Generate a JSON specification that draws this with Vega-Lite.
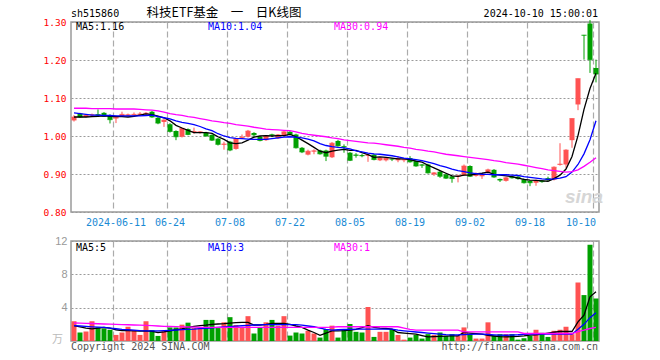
{
  "$schema": "https://vega.github.io/schema/vega-lite/v6.json",
  "background": "white",
  "padding": {"left": 5, "top": 6, "right": 5, "bottom": 5},
  "bounds": "flush",
  "spacing": 29,
  "config": {
    "view": {"stroke": "#9a9a9a", "strokeWidth": 1.5},
    "axis": {"labelFont": "DejaVu Sans Mono"}
  },
  "datasets": {
    "k": [
      {"d":"2024-05-30","o":1.041,"h":1.055,"l":1.038,"c":1.050,"v":2.37,"m5":1.050,"m10":1.061,"m30":1.073,"vm5":1.84,"vm10":1.84,"vm30":2.16},
      {"d":"2024-05-31","o":1.059,"h":1.061,"l":1.048,"c":1.050,"v":1.02,"m5":1.050,"m10":1.059,"m30":1.073,"vm5":1.70,"vm10":1.80,"vm30":2.14},
      {"d":"2024-06-03","o":1.050,"h":1.057,"l":1.049,"c":1.055,"v":1.14,"m5":1.050,"m10":1.057,"m30":1.073,"vm5":1.55,"vm10":1.75,"vm30":2.12},
      {"d":"2024-06-04","o":1.054,"h":1.059,"l":1.050,"c":1.056,"v":2.37,"m5":1.051,"m10":1.055,"m30":1.072,"vm5":1.45,"vm10":1.70,"vm30":2.10},
      {"d":"2024-06-05","o":1.057,"h":1.070,"l":1.050,"c":1.055,"v":1.63,"m5":1.052,"m10":1.055,"m30":1.072,"vm5":1.55,"vm10":1.66,"vm30":2.07},
      {"d":"2024-06-06","o":1.061,"h":1.063,"l":1.050,"c":1.052,"v":1.51,"m5":1.053,"m10":1.054,"m30":1.072,"vm5":1.63,"vm10":1.63,"vm30":2.04},
      {"d":"2024-06-07","o":1.055,"h":1.057,"l":1.033,"c":1.043,"v":1.35,"m5":1.052,"m10":1.054,"m30":1.072,"vm5":1.55,"vm10":1.55,"vm30":2.02},
      {"d":"2024-06-11","o":1.046,"h":1.054,"l":1.034,"c":1.049,"v":0.73,"m5":1.051,"m10":1.053,"m30":1.071,"vm5":1.35,"vm10":1.47,"vm30":2.00},
      {"d":"2024-06-12","o":1.052,"h":1.064,"l":1.051,"c":1.057,"v":1.02,"m5":1.051,"m10":1.053,"m30":1.071,"vm5":1.25,"vm10":1.40,"vm30":1.97},
      {"d":"2024-06-13","o":1.054,"h":1.059,"l":1.052,"c":1.056,"v":1.71,"m5":1.050,"m10":1.053,"m30":1.071,"vm5":1.25,"vm10":1.35,"vm30":1.95},
      {"d":"2024-06-14","o":1.055,"h":1.062,"l":1.053,"c":1.057,"v":1.22,"m5":1.052,"m10":1.053,"m30":1.071,"vm5":1.22,"vm10":1.30,"vm30":1.92},
      {"d":"2024-06-17","o":1.056,"h":1.063,"l":1.054,"c":1.058,"v":0.73,"m5":1.055,"m10":1.053,"m30":1.070,"vm5":1.20,"vm10":1.25,"vm30":1.90},
      {"d":"2024-06-18","o":1.058,"h":1.063,"l":1.056,"c":1.060,"v":2.37,"m5":1.058,"m10":1.054,"m30":1.069,"vm5":1.22,"vm10":1.22,"vm30":1.88},
      {"d":"2024-06-19","o":1.064,"h":1.066,"l":1.048,"c":1.050,"v":1.31,"m5":1.056,"m10":1.055,"m30":1.068,"vm5":1.15,"vm10":1.22,"vm30":1.85},
      {"d":"2024-06-20","o":1.048,"h":1.050,"l":1.031,"c":1.034,"v":0.61,"m5":1.052,"m10":1.051,"m30":1.066,"vm5":1.02,"vm10":1.22,"vm30":1.80},
      {"d":"2024-06-21","o":1.037,"h":1.044,"l":1.024,"c":1.042,"v":1.22,"m5":1.048,"m10":1.048,"m30":1.063,"vm5":1.10,"vm10":1.25,"vm30":1.76},
      {"d":"2024-06-24","o":1.031,"h":1.034,"l":1.009,"c":1.012,"v":1.63,"m5":1.040,"m10":1.045,"m30":1.059,"vm5":1.22,"vm10":1.28,"vm30":1.74},
      {"d":"2024-06-25","o":1.013,"h":1.015,"l":0.989,"c":0.998,"v":1.63,"m5":1.028,"m10":1.040,"m30":1.056,"vm5":1.35,"vm10":1.32,"vm30":1.72},
      {"d":"2024-06-26","o":0.998,"h":1.022,"l":0.996,"c":1.020,"v":1.96,"m5":1.021,"m10":1.036,"m30":1.054,"vm5":1.45,"vm10":1.36,"vm30":1.70},
      {"d":"2024-06-27","o":1.018,"h":1.020,"l":1.002,"c":1.004,"v":2.20,"m5":1.015,"m10":1.033,"m30":1.051,"vm5":1.63,"vm10":1.40,"vm30":1.68},
      {"d":"2024-06-28","o":1.010,"h":1.022,"l":1.006,"c":1.012,"v":1.55,"m5":1.009,"m10":1.030,"m30":1.049,"vm5":1.75,"vm10":1.43,"vm30":1.66},
      {"d":"2024-07-01","o":1.009,"h":1.013,"l":1.006,"c":1.011,"v":1.55,"m5":1.009,"m10":1.025,"m30":1.046,"vm5":1.84,"vm10":1.48,"vm30":1.63},
      {"d":"2024-07-02","o":1.009,"h":1.011,"l":0.998,"c":1.000,"v":2.53,"m5":1.009,"m10":1.019,"m30":1.043,"vm5":1.90,"vm10":1.53,"vm30":1.63},
      {"d":"2024-07-03","o":1.003,"h":1.004,"l":0.987,"c":0.989,"v":2.53,"m5":1.007,"m10":1.014,"m30":1.040,"vm5":2.00,"vm10":1.58,"vm30":1.63},
      {"d":"2024-07-04","o":0.993,"h":0.995,"l":0.975,"c":0.978,"v":1.55,"m5":0.998,"m10":1.006,"m30":1.038,"vm5":2.04,"vm10":1.63,"vm30":1.63},
      {"d":"2024-07-05","o":0.977,"h":0.985,"l":0.964,"c":0.979,"v":2.24,"m5":0.991,"m10":1.000,"m30":1.035,"vm5":2.08,"vm10":1.68,"vm30":1.63},
      {"d":"2024-07-08","o":0.985,"h":0.987,"l":0.960,"c":0.963,"v":2.86,"m5":0.982,"m10":0.996,"m30":1.033,"vm5":2.15,"vm10":1.73,"vm30":1.63},
      {"d":"2024-07-09","o":0.966,"h":0.995,"l":0.964,"c":0.993,"v":1.92,"m5":0.980,"m10":0.994,"m30":1.030,"vm5":2.20,"vm10":1.78,"vm30":1.63},
      {"d":"2024-07-10","o":0.995,"h":1.004,"l":0.992,"c":0.997,"v":1.63,"m5":0.982,"m10":0.993,"m30":1.028,"vm5":2.24,"vm10":1.83,"vm30":1.63},
      {"d":"2024-07-11","o":0.998,"h":1.016,"l":0.996,"c":1.013,"v":2.98,"m5":0.989,"m10":0.992,"m30":1.026,"vm5":2.24,"vm10":1.88,"vm30":1.63},
      {"d":"2024-07-12","o":1.008,"h":1.010,"l":0.996,"c":1.003,"v":0.90,"m5":0.997,"m10":0.991,"m30":1.023,"vm5":1.92,"vm10":1.92,"vm30":1.63},
      {"d":"2024-07-15","o":0.998,"h":0.999,"l":0.986,"c":0.988,"v":1.63,"m5":1.000,"m10":0.991,"m30":1.021,"vm5":1.92,"vm10":1.94,"vm30":1.63},
      {"d":"2024-07-16","o":0.989,"h":1.002,"l":0.987,"c":1.000,"v":2.24,"m5":1.001,"m10":0.991,"m30":1.018,"vm5":2.00,"vm10":1.96,"vm30":1.63},
      {"d":"2024-07-17","o":1.004,"h":1.006,"l":0.997,"c":1.003,"v":2.53,"m5":1.000,"m10":0.993,"m30":1.017,"vm5":2.10,"vm10":1.96,"vm30":1.63},
      {"d":"2024-07-18","o":0.994,"h":1.005,"l":0.992,"c":1.003,"v":1.84,"m5":1.001,"m10":0.995,"m30":1.016,"vm5":2.12,"vm10":1.96,"vm30":1.63},
      {"d":"2024-07-19","o":1.000,"h":1.013,"l":0.998,"c":1.011,"v":2.98,"m5":1.001,"m10":0.997,"m30":1.015,"vm5":2.12,"vm10":1.96,"vm30":1.63},
      {"d":"2024-07-22","o":1.011,"h":1.013,"l":1.002,"c":1.004,"v":0.65,"m5":1.004,"m10":0.998,"m30":1.014,"vm5":2.00,"vm10":1.96,"vm30":1.63},
      {"d":"2024-07-23","o":1.004,"h":1.006,"l":0.967,"c":0.969,"v":1.02,"m5":0.998,"m10":0.997,"m30":1.011,"vm5":1.80,"vm10":1.96,"vm30":1.63},
      {"d":"2024-07-24","o":0.969,"h":0.971,"l":0.955,"c":0.958,"v":0.90,"m5":0.989,"m10":0.995,"m30":1.007,"vm5":1.63,"vm10":1.90,"vm30":1.63},
      {"d":"2024-07-25","o":0.951,"h":0.964,"l":0.949,"c":0.960,"v":1.22,"m5":0.980,"m10":0.992,"m30":1.004,"vm5":1.30,"vm10":1.80,"vm30":1.63},
      {"d":"2024-07-26","o":0.959,"h":0.965,"l":0.952,"c":0.961,"v":0.90,"m5":0.970,"m10":0.987,"m30":1.002,"vm5":1.02,"vm10":1.71,"vm30":1.63},
      {"d":"2024-07-29","o":0.962,"h":0.964,"l":0.951,"c":0.953,"v":0.41,"m5":0.960,"m10":0.980,"m30":1.000,"vm5":0.69,"vm10":1.55,"vm30":1.63},
      {"d":"2024-07-30","o":0.962,"h":0.964,"l":0.934,"c":0.947,"v":1.43,"m5":0.956,"m10":0.975,"m30":0.998,"vm5":0.95,"vm10":1.40,"vm30":1.63},
      {"d":"2024-07-31","o":0.944,"h":0.984,"l":0.942,"c":0.981,"v":1.84,"m5":0.960,"m10":0.972,"m30":0.995,"vm5":1.22,"vm10":1.31,"vm30":1.66},
      {"d":"2024-08-01","o":0.987,"h":0.990,"l":0.972,"c":0.974,"v":0.41,"m5":0.963,"m10":0.970,"m30":0.993,"vm5":1.22,"vm10":1.35,"vm30":1.71},
      {"d":"2024-08-02","o":0.973,"h":0.978,"l":0.956,"c":0.971,"v":1.35,"m5":0.965,"m10":0.969,"m30":0.990,"vm5":1.25,"vm10":1.38,"vm30":1.71},
      {"d":"2024-08-05","o":0.956,"h":0.958,"l":0.934,"c":0.936,"v":2.04,"m5":0.962,"m10":0.966,"m30":0.988,"vm5":1.31,"vm10":1.40,"vm30":1.71},
      {"d":"2024-08-06","o":0.951,"h":0.955,"l":0.943,"c":0.949,"v":1.10,"m5":0.962,"m10":0.961,"m30":0.986,"vm5":1.40,"vm10":1.43,"vm30":1.71},
      {"d":"2024-08-07","o":0.950,"h":0.953,"l":0.944,"c":0.948,"v":1.02,"m5":0.956,"m10":0.958,"m30":0.984,"vm5":1.60,"vm10":1.43,"vm30":1.71},
      {"d":"2024-08-08","o":0.948,"h":0.953,"l":0.932,"c":0.950,"v":4.08,"m5":0.951,"m10":0.955,"m30":0.982,"vm5":1.84,"vm10":1.43,"vm30":1.71},
      {"d":"2024-08-09","o":0.951,"h":0.953,"l":0.936,"c":0.938,"v":0.49,"m5":0.944,"m10":0.953,"m30":0.981,"vm5":1.63,"vm10":1.43,"vm30":1.71},
      {"d":"2024-08-12","o":0.936,"h":0.944,"l":0.934,"c":0.942,"v":1.10,"m5":0.945,"m10":0.952,"m30":0.979,"vm5":1.55,"vm10":1.43,"vm30":1.71},
      {"d":"2024-08-13","o":0.936,"h":0.943,"l":0.933,"c":0.942,"v":1.10,"m5":0.944,"m10":0.950,"m30":0.977,"vm5":1.50,"vm10":1.43,"vm30":1.71},
      {"d":"2024-08-14","o":0.940,"h":0.941,"l":0.934,"c":0.939,"v":1.43,"m5":0.942,"m10":0.948,"m30":0.975,"vm5":1.43,"vm10":1.43,"vm30":1.71},
      {"d":"2024-08-15","o":0.936,"h":0.947,"l":0.931,"c":0.940,"v":0.73,"m5":0.940,"m10":0.945,"m30":0.973,"vm5":1.02,"vm10":1.30,"vm30":1.71},
      {"d":"2024-08-16","o":0.936,"h":0.940,"l":0.931,"c":0.938,"v":0.16,"m5":0.940,"m10":0.942,"m30":0.970,"vm5":0.95,"vm10":1.22,"vm30":1.55},
      {"d":"2024-08-19","o":0.942,"h":0.947,"l":0.930,"c":0.932,"v":0.41,"m5":0.938,"m10":0.940,"m30":0.968,"vm5":0.88,"vm10":1.15,"vm30":1.40},
      {"d":"2024-08-20","o":0.934,"h":0.936,"l":0.919,"c":0.921,"v":0.73,"m5":0.934,"m10":0.938,"m30":0.965,"vm5":0.82,"vm10":1.08,"vm30":1.31},
      {"d":"2024-08-21","o":0.925,"h":0.926,"l":0.916,"c":0.923,"v":0.29,"m5":0.931,"m10":0.935,"m30":0.963,"vm5":0.65,"vm10":1.02,"vm30":1.31},
      {"d":"2024-08-22","o":0.925,"h":0.927,"l":0.901,"c":0.903,"v":0.82,"m5":0.923,"m10":0.931,"m30":0.960,"vm5":0.49,"vm10":0.95,"vm30":1.31},
      {"d":"2024-08-23","o":0.899,"h":0.905,"l":0.895,"c":0.903,"v":0.73,"m5":0.916,"m10":0.927,"m30":0.958,"vm5":0.52,"vm10":0.88,"vm30":1.31},
      {"d":"2024-08-26","o":0.906,"h":0.908,"l":0.890,"c":0.894,"v":1.02,"m5":0.909,"m10":0.922,"m30":0.955,"vm5":0.55,"vm10":0.82,"vm30":1.31},
      {"d":"2024-08-27","o":0.899,"h":0.902,"l":0.887,"c":0.889,"v":0.61,"m5":0.902,"m10":0.918,"m30":0.952,"vm5":0.58,"vm10":0.76,"vm30":1.31},
      {"d":"2024-08-28","o":0.894,"h":0.895,"l":0.877,"c":0.888,"v":0.82,"m5":0.895,"m10":0.913,"m30":0.950,"vm5":0.61,"vm10":0.73,"vm30":1.31},
      {"d":"2024-08-29","o":0.893,"h":0.898,"l":0.878,"c":0.895,"v":0.61,"m5":0.894,"m10":0.909,"m30":0.948,"vm5":0.61,"vm10":0.73,"vm30":1.31},
      {"d":"2024-08-30","o":0.897,"h":0.925,"l":0.895,"c":0.921,"v":1.63,"m5":0.897,"m10":0.906,"m30":0.946,"vm5":1.02,"vm10":0.76,"vm30":1.10},
      {"d":"2024-09-02","o":0.921,"h":0.923,"l":0.892,"c":0.894,"v":0.82,"m5":0.897,"m10":0.903,"m30":0.944,"vm5":0.95,"vm10":0.79,"vm30":1.10},
      {"d":"2024-09-03","o":0.895,"h":0.904,"l":0.893,"c":0.900,"v":0.29,"m5":0.900,"m10":0.901,"m30":0.942,"vm5":0.88,"vm10":0.82,"vm30":1.10},
      {"d":"2024-09-04","o":0.894,"h":0.902,"l":0.887,"c":0.898,"v":0.29,"m5":0.902,"m10":0.899,"m30":0.940,"vm5":0.82,"vm10":0.82,"vm30":1.10},
      {"d":"2024-09-05","o":0.903,"h":0.914,"l":0.901,"c":0.911,"v":2.24,"m5":0.905,"m10":0.899,"m30":0.938,"vm5":0.69,"vm10":0.78,"vm30":1.10},
      {"d":"2024-09-06","o":0.911,"h":0.913,"l":0.890,"c":0.892,"v":0.61,"m5":0.899,"m10":0.898,"m30":0.935,"vm5":0.60,"vm10":0.74,"vm30":1.10},
      {"d":"2024-09-09","o":0.887,"h":0.888,"l":0.879,"c":0.884,"v":0.82,"m5":0.897,"m10":0.898,"m30":0.933,"vm5":0.52,"vm10":0.71,"vm30":1.10},
      {"d":"2024-09-10","o":0.882,"h":0.892,"l":0.880,"c":0.890,"v":0.82,"m5":0.895,"m10":0.898,"m30":0.930,"vm5":0.49,"vm10":0.69,"vm30":1.10},
      {"d":"2024-09-11","o":0.894,"h":0.896,"l":0.888,"c":0.890,"v":0.82,"m5":0.893,"m10":0.897,"m30":0.928,"vm5":0.52,"vm10":0.72,"vm30":1.10},
      {"d":"2024-09-12","o":0.893,"h":0.895,"l":0.885,"c":0.888,"v":0.16,"m5":0.889,"m10":0.896,"m30":0.926,"vm5":0.55,"vm10":0.75,"vm30":1.10},
      {"d":"2024-09-13","o":0.886,"h":0.888,"l":0.875,"c":0.877,"v":0.33,"m5":0.886,"m10":0.893,"m30":0.923,"vm5":0.61,"vm10":0.80,"vm30":0.90},
      {"d":"2024-09-18","o":0.882,"h":0.883,"l":0.868,"c":0.877,"v":0.61,"m5":0.884,"m10":0.891,"m30":0.920,"vm5":0.70,"vm10":0.82,"vm30":0.90},
      {"d":"2024-09-19","o":0.877,"h":0.885,"l":0.869,"c":0.883,"v":1.35,"m5":0.883,"m10":0.889,"m30":0.917,"vm5":0.75,"vm10":0.82,"vm30":0.90},
      {"d":"2024-09-20","o":0.883,"h":0.884,"l":0.877,"c":0.880,"v":0.98,"m5":0.882,"m10":0.887,"m30":0.914,"vm5":0.82,"vm10":0.82,"vm30":0.90},
      {"d":"2024-09-23","o":0.889,"h":0.893,"l":0.882,"c":0.885,"v":0.49,"m5":0.881,"m10":0.886,"m30":0.911,"vm5":0.95,"vm10":0.82,"vm30":0.90},
      {"d":"2024-09-24","o":0.885,"h":0.920,"l":0.883,"c":0.918,"v":1.22,"m5":0.888,"m10":0.887,"m30":0.909,"vm5":1.05,"vm10":0.82,"vm30":0.90},
      {"d":"2024-09-25","o":0.924,"h":0.981,"l":0.922,"c":0.926,"v":1.35,"m5":0.897,"m10":0.889,"m30":0.907,"vm5":1.14,"vm10":0.82,"vm30":0.90},
      {"d":"2024-09-26","o":0.925,"h":0.965,"l":0.916,"c":0.963,"v":1.71,"m5":0.913,"m10":0.893,"m30":0.905,"vm5":1.14,"vm10":0.82,"vm30":0.90},
      {"d":"2024-09-27","o":0.989,"h":1.046,"l":0.969,"c":1.046,"v":0.82,"m5":0.946,"m10":0.905,"m30":0.906,"vm5":1.14,"vm10":0.82,"vm30":0.90},
      {"d":"2024-09-30","o":1.083,"h":1.151,"l":1.068,"c":1.151,"v":7.02,"m5":1.001,"m10":0.925,"m30":0.911,"vm5":2.30,"vm10":1.40,"vm30":1.12},
      {"d":"2024-10-08","o":1.266,"h":1.266,"l":1.201,"c":1.265,"v":5.51,"m5":1.070,"m10":0.953,"m30":0.920,"vm5":3.10,"vm10":2.00,"vm30":1.30},
      {"d":"2024-10-09","o":1.296,"h":1.305,"l":1.166,"c":1.201,"v":11.55,"m5":1.125,"m10":0.990,"m30":0.931,"vm5":5.30,"vm10":2.80,"vm30":1.50},
      {"d":"2024-10-10","o":1.179,"h":1.201,"l":1.141,"c":1.163,"v":5.10,"m5":1.165,"m10":1.040,"m30":0.943,"vm5":5.90,"vm10":3.40,"vm30":1.63}
    ],
    "tm": [
      {"d":"2024-05-30","k":"m5","t":"MA5:1.16"},
      {"d":"2024-07-02","k":"m10","t":"MA10:1.04"},
      {"d":"2024-07-31","k":"m30","t":"MA30:0.94"}
    ],
    "tv": [
      {"d":"2024-05-30","k":"vm5","t":"MA5:5"},
      {"d":"2024-07-02","k":"vm10","t":"MA10:3"},
      {"d":"2024-07-31","k":"vm30","t":"MA30:1"}
    ]
  },
  "vconcat": [
    {
      "width": 528,
      "height": 190,
      "data": {"name": "k"},
      "encoding": {
        "x": {
          "field": "d", "type": "ordinal",
          "scale": {"paddingInner": 0.1667, "paddingOuter": 0.0833},
          "axis": {
            "title": null,
            "values": ["2024-06-11","2024-06-24","2024-07-08","2024-07-22","2024-08-05","2024-08-19","2024-09-02","2024-09-18","2024-10-10"],
            "labelExpr": "datum.value === '2024-06-11' ? datum.value : substring(datum.value, 5)",
            "labelAngle": 0,
            "labelColor": "#1a8ad4",
            "labelFontSize": 10,
            "labelPadding": 5,
            "labelFlush": 8,
            "labelOverlap": false,
            "bandPosition": 0,
            "ticks": false,
            "domain": false,
            "grid": true,
            "gridColor": "#ababab",
            "gridDash": [6, 3],
            "gridWidth": 1.2
          }
        }
      },
      "layer": [
        {
          "mark": {"type": "rule", "strokeWidth": 1},
          "encoding": {
            "y": {
              "field": "l", "type": "quantitative",
              "scale": {"domain": [0.8, 1.3], "nice": false, "zero": false},
              "axis": {"title": null, "values": [0.8, 0.9, 1.0, 1.1, 1.2, 1.3], "format": ".2f", "labelColor": "#ff0000", "labelFontSize": 9.5, "labelPadding": 5, "labelOverlap": false, "minExtent": 65, "maxExtent": 65, "ticks": false, "domain": false, "grid": true, "gridColor": "#9a9a9a", "gridDash": [2, 2]}
            },
            "y2": {"field": "h"},
            "color": {"condition": {"test": "datum.c >= datum.o", "value": "#ff5252"}, "value": "#00a000"}
          }
        },
        {
          "mark": {"type": "bar"},
          "encoding": {
            "y": {"field": "o", "type": "quantitative",
              "axis": {"title": null, "values": [0.8, 0.9, 1.0, 1.1, 1.2, 1.3], "format": ".2f", "labelColor": "#ff0000", "labelFontSize": 9.5, "labelPadding": 5, "labelOverlap": false, "minExtent": 65, "maxExtent": 65, "ticks": false, "domain": false, "grid": true, "gridColor": "#9a9a9a", "gridDash": [2, 2]}},
            "y2": {"field": "c"},
            "color": {"condition": {"test": "datum.c >= datum.o", "value": "#ff5252"}, "value": "#00a000"}
          }
        },
        {
          "mark": {"type": "tick", "thickness": 1, "size": 5, "orient": "horizontal"},
          "encoding": {
            "y": {"field": "c", "type": "quantitative",
              "axis": {"title": null, "values": [0.8, 0.9, 1.0, 1.1, 1.2, 1.3], "format": ".2f", "labelColor": "#ff0000", "labelFontSize": 9.5, "labelPadding": 5, "labelOverlap": false, "minExtent": 65, "maxExtent": 65, "ticks": false, "domain": false, "grid": true, "gridColor": "#9a9a9a", "gridDash": [2, 2]}},
            "color": {"condition": {"test": "datum.c >= datum.o", "value": "#ff5252"}, "value": "#00a000"}
          }
        },
        {
          "transform": [{"fold": ["m5", "m10", "m30"], "as": ["k", "val"]}],
          "mark": {"type": "line", "strokeWidth": 1.3},
          "encoding": {
            "y": {"field": "val", "type": "quantitative",
              "axis": {"title": null, "values": [0.8, 0.9, 1.0, 1.1, 1.2, 1.3], "format": ".2f", "labelColor": "#ff0000", "labelFontSize": 9.5, "labelPadding": 5, "labelOverlap": false, "minExtent": 65, "maxExtent": 65, "ticks": false, "domain": false, "grid": true, "gridColor": "#9a9a9a", "gridDash": [2, 2]}},
            "color": {"field": "k", "type": "nominal", "scale": {"domain": ["m5", "m10", "m30"], "range": ["#000000", "#0000ff", "#ff00ff"]}, "legend": null}
          }
        },
        {
          "data": {"name": "tm"},
          "mark": {"type": "text", "align": "left", "baseline": "middle", "dx": 2, "font": "DejaVu Sans Mono", "fontSize": 10},
          "encoding": {
            "y": {"datum": 1.287, "type": "quantitative",
              "axis": {"title": null, "values": [0.8, 0.9, 1.0, 1.1, 1.2, 1.3], "format": ".2f", "labelColor": "#ff0000", "labelFontSize": 9.5, "labelPadding": 5, "labelOverlap": false, "minExtent": 65, "maxExtent": 65, "ticks": false, "domain": false, "grid": true, "gridColor": "#9a9a9a", "gridDash": [2, 2]}},
            "text": {"field": "t"},
            "color": {"field": "k", "type": "nominal", "scale": {"domain": ["m5", "m10", "m30"], "range": ["#000000", "#0000ff", "#ff00ff"]}, "legend": null}
          }
        },
        {
          "data": {"values": [{"d": "2024-05-30", "t": "sh515860"}]},
          "mark": {"type": "text", "align": "left", "baseline": "middle", "dx": -3, "font": "DejaVu Sans Mono", "fontSize": 10, "color": "#000000"},
          "encoding": {"y": {"datum": 1.321, "type": "quantitative",
              "axis": {"title": null, "values": [0.8, 0.9, 1.0, 1.1, 1.2, 1.3], "format": ".2f", "labelColor": "#ff0000", "labelFontSize": 9.5, "labelPadding": 5, "labelOverlap": false, "minExtent": 65, "maxExtent": 65, "ticks": false, "domain": false, "grid": true, "gridColor": "#9a9a9a", "gridDash": [2, 2]}}, "text": {"field": "t"}}
        },
        {
          "data": {"values": [{"d": "2024-07-05", "t": "科技ETF基金　一　日K线图"}]},
          "mark": {"type": "text", "align": "center", "baseline": "middle", "font": "Noto Sans CJK SC", "fontSize": 12.5, "color": "#000000"},
          "encoding": {"y": {"datum": 1.323, "type": "quantitative",
              "axis": {"title": null, "values": [0.8, 0.9, 1.0, 1.1, 1.2, 1.3], "format": ".2f", "labelColor": "#ff0000", "labelFontSize": 9.5, "labelPadding": 5, "labelOverlap": false, "minExtent": 65, "maxExtent": 65, "ticks": false, "domain": false, "grid": true, "gridColor": "#9a9a9a", "gridDash": [2, 2]}}, "text": {"field": "t"}}
        },
        {
          "data": {"values": [{"d": "2024-10-10", "t": "2024-10-10 15:00:01"}]},
          "mark": {"type": "text", "align": "right", "baseline": "middle", "dx": 2, "font": "DejaVu Sans Mono", "fontSize": 10, "color": "#000000"},
          "encoding": {"y": {"datum": 1.321, "type": "quantitative",
              "axis": {"title": null, "values": [0.8, 0.9, 1.0, 1.1, 1.2, 1.3], "format": ".2f", "labelColor": "#ff0000", "labelFontSize": 9.5, "labelPadding": 5, "labelOverlap": false, "minExtent": 65, "maxExtent": 65, "ticks": false, "domain": false, "grid": true, "gridColor": "#9a9a9a", "gridDash": [2, 2]}}, "text": {"field": "t"}}
        },
        {
          "data": {"values": [{"d": "2024-10-08", "t": "sina"}]},
          "mark": {"type": "text", "align": "center", "baseline": "middle", "font": "Liberation Sans", "fontSize": 19, "fontStyle": "italic", "fontWeight": "bold", "color": "#d6d6d6"},
          "encoding": {"y": {"datum": 0.84, "type": "quantitative",
              "axis": {"title": null, "values": [0.8, 0.9, 1.0, 1.1, 1.2, 1.3], "format": ".2f", "labelColor": "#ff0000", "labelFontSize": 9.5, "labelPadding": 5, "labelOverlap": false, "minExtent": 65, "maxExtent": 65, "ticks": false, "domain": false, "grid": true, "gridColor": "#9a9a9a", "gridDash": [2, 2]}}, "text": {"field": "t"}}
        }
      ]
    },
    {
      "width": 528,
      "height": 100,
      "data": {"name": "k"},
      "encoding": {
        "x": {
          "field": "d", "type": "ordinal",
          "scale": {"paddingInner": 0.1667, "paddingOuter": 0.0833},
          "axis": {
            "title": null,
            "values": ["2024-06-11","2024-06-24","2024-07-08","2024-07-22","2024-08-05","2024-08-19","2024-09-02","2024-09-18","2024-10-10"],
            "labels": false,
            "bandPosition": 0,
            "ticks": false,
            "domain": false,
            "grid": true,
            "gridColor": "#ababab",
            "gridDash": [6, 3],
            "gridWidth": 1.2
          }
        }
      },
      "layer": [
        {
          "mark": {"type": "bar"},
          "encoding": {
            "y": {
              "field": "v", "type": "quantitative",
              "scale": {"domain": [0, 12], "nice": false},
              "axis": {"title": null, "values": [4, 8, 12], "labelColor": "#999999", "labelFont": "Liberation Sans", "labelFontSize": 11, "labelPadding": 4, "labelOverlap": false, "minExtent": 65, "maxExtent": 65, "ticks": false, "domain": false, "grid": true, "gridColor": "#9a9a9a", "gridDash": [2, 2]}
            },
            "color": {"condition": {"test": "datum.c >= datum.o", "value": "#ff5252"}, "value": "#00a000"}
          }
        },
        {
          "transform": [{"fold": ["vm5", "vm10", "vm30"], "as": ["k", "val"]}],
          "mark": {"type": "line", "strokeWidth": 1.3},
          "encoding": {
            "y": {"field": "val", "type": "quantitative",
              "axis": {"title": null, "values": [4, 8, 12], "labelColor": "#999999", "labelFont": "Liberation Sans", "labelFontSize": 11, "labelPadding": 4, "labelOverlap": false, "minExtent": 65, "maxExtent": 65, "ticks": false, "domain": false, "grid": true, "gridColor": "#9a9a9a", "gridDash": [2, 2]}},
            "color": {"field": "k", "type": "nominal", "scale": {"domain": ["vm5", "vm10", "vm30"], "range": ["#000000", "#0000ff", "#ff00ff"]}, "legend": null}
          }
        },
        {
          "data": {"name": "tv"},
          "mark": {"type": "text", "align": "left", "baseline": "middle", "dx": 2, "font": "DejaVu Sans Mono", "fontSize": 10},
          "encoding": {
            "y": {"datum": 11.15, "type": "quantitative",
              "axis": {"title": null, "values": [4, 8, 12], "labelColor": "#999999", "labelFont": "Liberation Sans", "labelFontSize": 11, "labelPadding": 4, "labelOverlap": false, "minExtent": 65, "maxExtent": 65, "ticks": false, "domain": false, "grid": true, "gridColor": "#9a9a9a", "gridDash": [2, 2]}},
            "text": {"field": "t"},
            "color": {"field": "k", "type": "nominal", "scale": {"domain": ["vm5", "vm10", "vm30"], "range": ["#000000", "#0000ff", "#ff00ff"]}, "legend": null}
          }
        },
        {
          "data": {"values": [{"d": "2024-05-30", "t": "Copyright 2024 SINA.COM"}]},
          "mark": {"type": "text", "align": "left", "baseline": "middle", "dx": -3, "font": "DejaVu Sans Mono", "fontSize": 10, "color": "#555555"},
          "encoding": {"y": {"datum": -0.75, "type": "quantitative",
              "axis": {"title": null, "values": [4, 8, 12], "labelColor": "#999999", "labelFont": "Liberation Sans", "labelFontSize": 11, "labelPadding": 4, "labelOverlap": false, "minExtent": 65, "maxExtent": 65, "ticks": false, "domain": false, "grid": true, "gridColor": "#9a9a9a", "gridDash": [2, 2]}}, "text": {"field": "t"}}
        },
        {
          "data": {"values": [{"d": "2024-10-10", "t": "http://finance.sina.com.cn"}]},
          "mark": {"type": "text", "align": "right", "baseline": "middle", "dx": 2, "font": "DejaVu Sans Mono", "fontSize": 10, "color": "#555555"},
          "encoding": {"y": {"datum": -0.75, "type": "quantitative",
              "axis": {"title": null, "values": [4, 8, 12], "labelColor": "#999999", "labelFont": "Liberation Sans", "labelFontSize": 11, "labelPadding": 4, "labelOverlap": false, "minExtent": 65, "maxExtent": 65, "ticks": false, "domain": false, "grid": true, "gridColor": "#9a9a9a", "gridDash": [2, 2]}}, "text": {"field": "t"}}
        },
        {
          "data": {"values": [{"d": "2024-05-30", "t": "万"}]},
          "mark": {"type": "text", "align": "right", "baseline": "middle", "dx": -11, "font": "Noto Sans CJK SC", "fontSize": 11, "color": "#bbbbbb"},
          "encoding": {"y": {"datum": 0.1, "type": "quantitative",
              "axis": {"title": null, "values": [4, 8, 12], "labelColor": "#999999", "labelFont": "Liberation Sans", "labelFontSize": 11, "labelPadding": 4, "labelOverlap": false, "minExtent": 65, "maxExtent": 65, "ticks": false, "domain": false, "grid": true, "gridColor": "#9a9a9a", "gridDash": [2, 2]}}, "text": {"field": "t"}}
        }
      ]
    }
  ]
}
